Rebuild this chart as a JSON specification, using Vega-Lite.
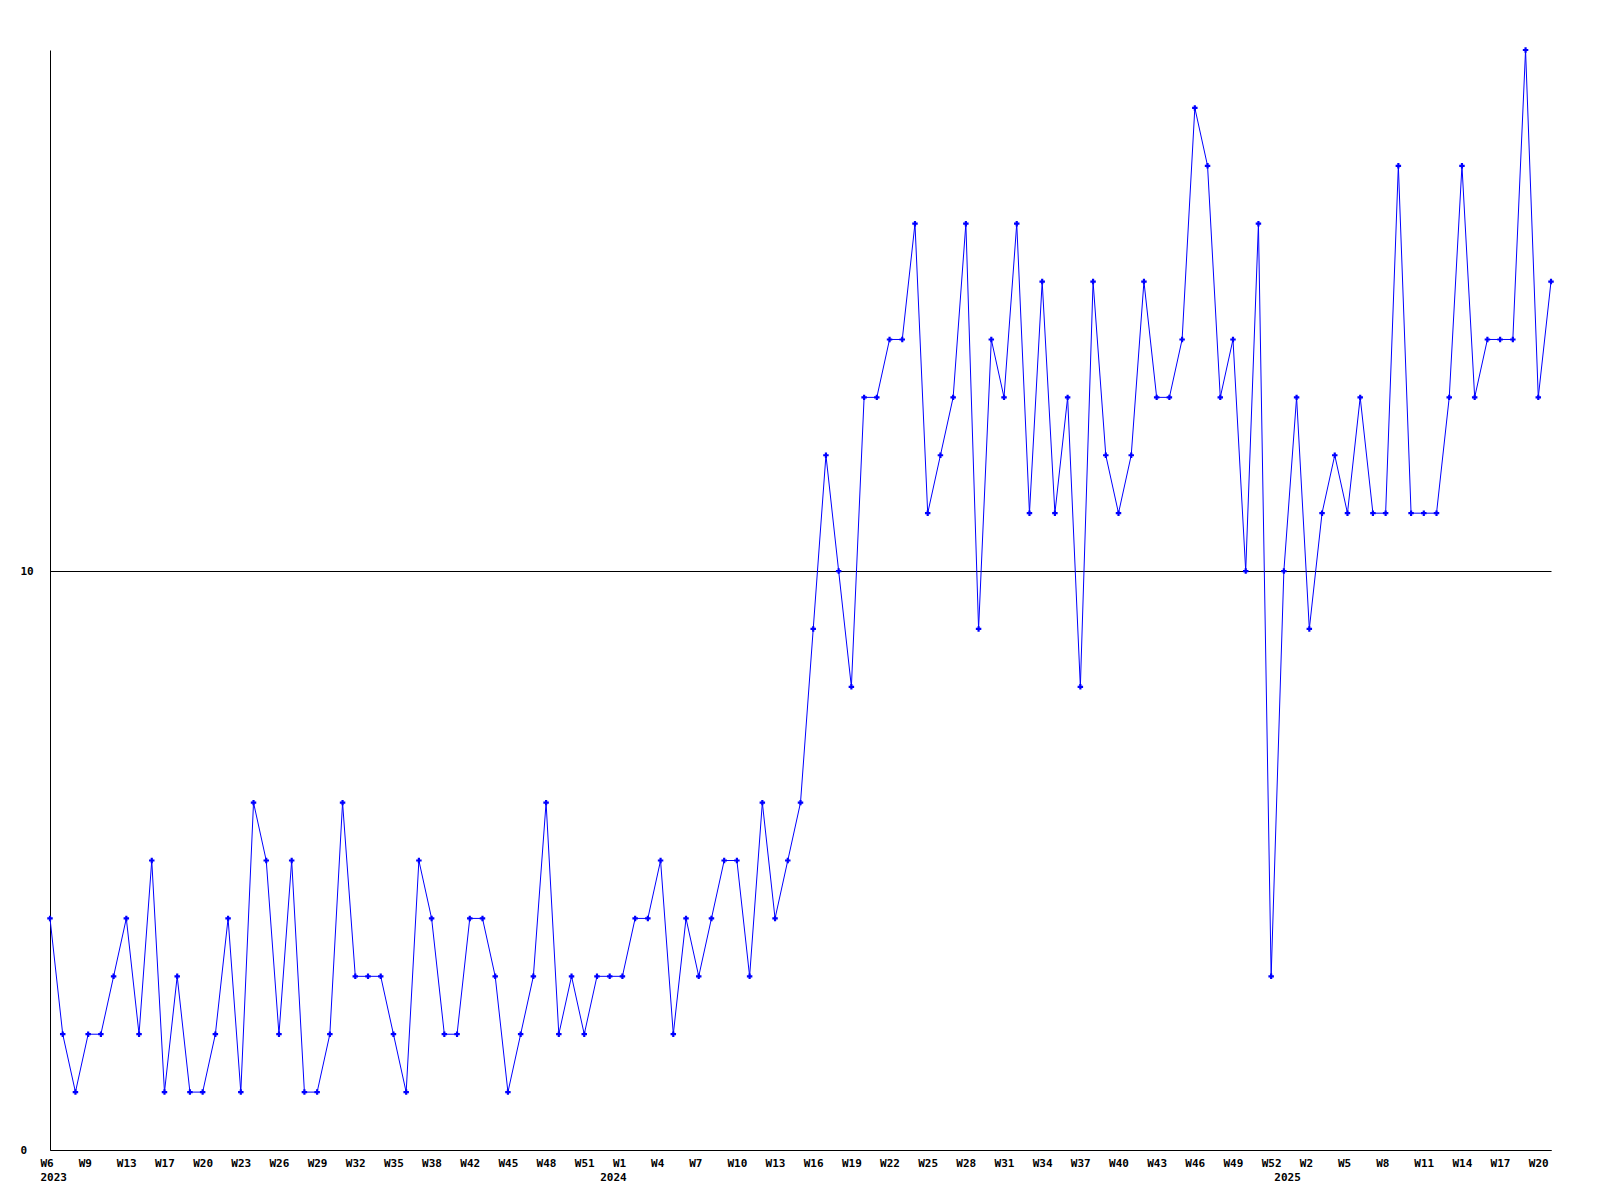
{
  "$schema": "https://vega.github.io/schema/vega-lite/v6.json",
  "width": 1501,
  "height": 1100,
  "autosize": {"type": "none"},
  "padding": {"left": 50, "top": 50, "right": 49, "bottom": 50},
  "background": "white",
  "config": {
    "view": {"stroke": null},
    "axis": {
      "labelFont": "DejaVu Sans Mono",
      "labelFontWeight": "bold",
      "labelFontSize": 11,
      "labelColor": "black",
      "domainColor": "black",
      "domainWidth": 1,
      "ticks": false,
      "tickSize": 0,
      "title": null
    }
  },
  "data": {
    "values": [
      {"i": 0, "value": 4}, {"i": 1, "value": 2}, {"i": 2, "value": 1}, {"i": 3, "value": 2}, {"i": 4, "value": 2},
      {"i": 5, "value": 3}, {"i": 6, "value": 4}, {"i": 7, "value": 2}, {"i": 8, "value": 5}, {"i": 9, "value": 1},
      {"i": 10, "value": 3}, {"i": 11, "value": 1}, {"i": 12, "value": 1}, {"i": 13, "value": 2}, {"i": 14, "value": 4},
      {"i": 15, "value": 1}, {"i": 16, "value": 6}, {"i": 17, "value": 5}, {"i": 18, "value": 2}, {"i": 19, "value": 5},
      {"i": 20, "value": 1}, {"i": 21, "value": 1}, {"i": 22, "value": 2}, {"i": 23, "value": 6}, {"i": 24, "value": 3},
      {"i": 25, "value": 3}, {"i": 26, "value": 3}, {"i": 27, "value": 2}, {"i": 28, "value": 1}, {"i": 29, "value": 5},
      {"i": 30, "value": 4}, {"i": 31, "value": 2}, {"i": 32, "value": 2}, {"i": 33, "value": 4}, {"i": 34, "value": 4},
      {"i": 35, "value": 3}, {"i": 36, "value": 1}, {"i": 37, "value": 2}, {"i": 38, "value": 3}, {"i": 39, "value": 6},
      {"i": 40, "value": 2}, {"i": 41, "value": 3}, {"i": 42, "value": 2}, {"i": 43, "value": 3}, {"i": 44, "value": 3},
      {"i": 45, "value": 3}, {"i": 46, "value": 4}, {"i": 47, "value": 4}, {"i": 48, "value": 5}, {"i": 49, "value": 2},
      {"i": 50, "value": 4}, {"i": 51, "value": 3}, {"i": 52, "value": 4}, {"i": 53, "value": 5}, {"i": 54, "value": 5},
      {"i": 55, "value": 3}, {"i": 56, "value": 6}, {"i": 57, "value": 4}, {"i": 58, "value": 5}, {"i": 59, "value": 6},
      {"i": 60, "value": 9}, {"i": 61, "value": 12}, {"i": 62, "value": 10}, {"i": 63, "value": 8}, {"i": 64, "value": 13},
      {"i": 65, "value": 13}, {"i": 66, "value": 14}, {"i": 67, "value": 14}, {"i": 68, "value": 16}, {"i": 69, "value": 11},
      {"i": 70, "value": 12}, {"i": 71, "value": 13}, {"i": 72, "value": 16}, {"i": 73, "value": 9}, {"i": 74, "value": 14},
      {"i": 75, "value": 13}, {"i": 76, "value": 16}, {"i": 77, "value": 11}, {"i": 78, "value": 15}, {"i": 79, "value": 11},
      {"i": 80, "value": 13}, {"i": 81, "value": 8}, {"i": 82, "value": 15}, {"i": 83, "value": 12}, {"i": 84, "value": 11},
      {"i": 85, "value": 12}, {"i": 86, "value": 15}, {"i": 87, "value": 13}, {"i": 88, "value": 13}, {"i": 89, "value": 14},
      {"i": 90, "value": 18}, {"i": 91, "value": 17}, {"i": 92, "value": 13}, {"i": 93, "value": 14}, {"i": 94, "value": 10},
      {"i": 95, "value": 16}, {"i": 96, "value": 3}, {"i": 97, "value": 10}, {"i": 98, "value": 13}, {"i": 99, "value": 9},
      {"i": 100, "value": 11}, {"i": 101, "value": 12}, {"i": 102, "value": 11}, {"i": 103, "value": 13}, {"i": 104, "value": 11},
      {"i": 105, "value": 11}, {"i": 106, "value": 17}, {"i": 107, "value": 11}, {"i": 108, "value": 11}, {"i": 109, "value": 11},
      {"i": 110, "value": 13}, {"i": 111, "value": 17}, {"i": 112, "value": 13}, {"i": 113, "value": 14}, {"i": 114, "value": 14},
      {"i": 115, "value": 14}, {"i": 116, "value": 19}, {"i": 117, "value": 13}, {"i": 118, "value": 15}
    ]
  },
  "encoding": {
    "x": {
      "field": "i",
      "type": "quantitative",
      "scale": {"domain": [0, 118], "nice": false, "zero": false},
      "axis": {
        "values": [0, 3, 6, 9, 12, 15, 18, 21, 24, 27, 30, 33, 36, 39, 42, 45, 48, 51, 54, 57, 60, 63, 66, 69, 72, 75, 78, 81, 84, 87, 90, 93, 96, 99, 102, 105, 108, 111, 114, 117, 44, 97],
        "labelExpr": "datum.value == 0 ? ['W6', '2023'] : datum.value == 44 ? ['', '2024'] : datum.value == 97 ? ['', '2025'] : ['W6','W9','W13','W17','W20','W23','W26','W29','W32','W35','W38','W42','W45','W48','W51','W1','W4','W7','W10','W13','W16','W19','W22','W25','W28','W31','W34','W37','W40','W43','W46','W49','W52','W2','W5','W8','W11','W14','W17','W20'][datum.value / 3]",
        "labelAlign": "left",
        "labelOffset": -10,
        "labelBaseline": "top",
        "labelPadding": 7,
        "labelLineHeight": 14,
        "labelOverlap": false,
        "labelBound": false,
        "labelFlush": false,
        "grid": false,
        "domain": true
      }
    },
    "y": {
      "field": "value",
      "type": "quantitative",
      "scale": {"domain": [0, 19], "nice": false},
      "axis": {
        "values": [0, 10],
        "grid": true,
        "gridColor": "black",
        "gridOpacity": 1,
        "gridWidth": 1,
        "labelAlign": "left",
        "labelPadding": 30,
        "labelBaseline": "middle",
        "labelFlush": false,
        "labelBound": false,
        "labelOverlap": false,
        "domain": true
      }
    }
  },
  "layer": [
    {"mark": {"type": "line", "color": "#0000ff", "strokeWidth": 1}},
    {"mark": {"type": "point", "shape": "cross", "filled": true, "size": 30, "color": "#0000ff", "opacity": 1}}
  ]
}
